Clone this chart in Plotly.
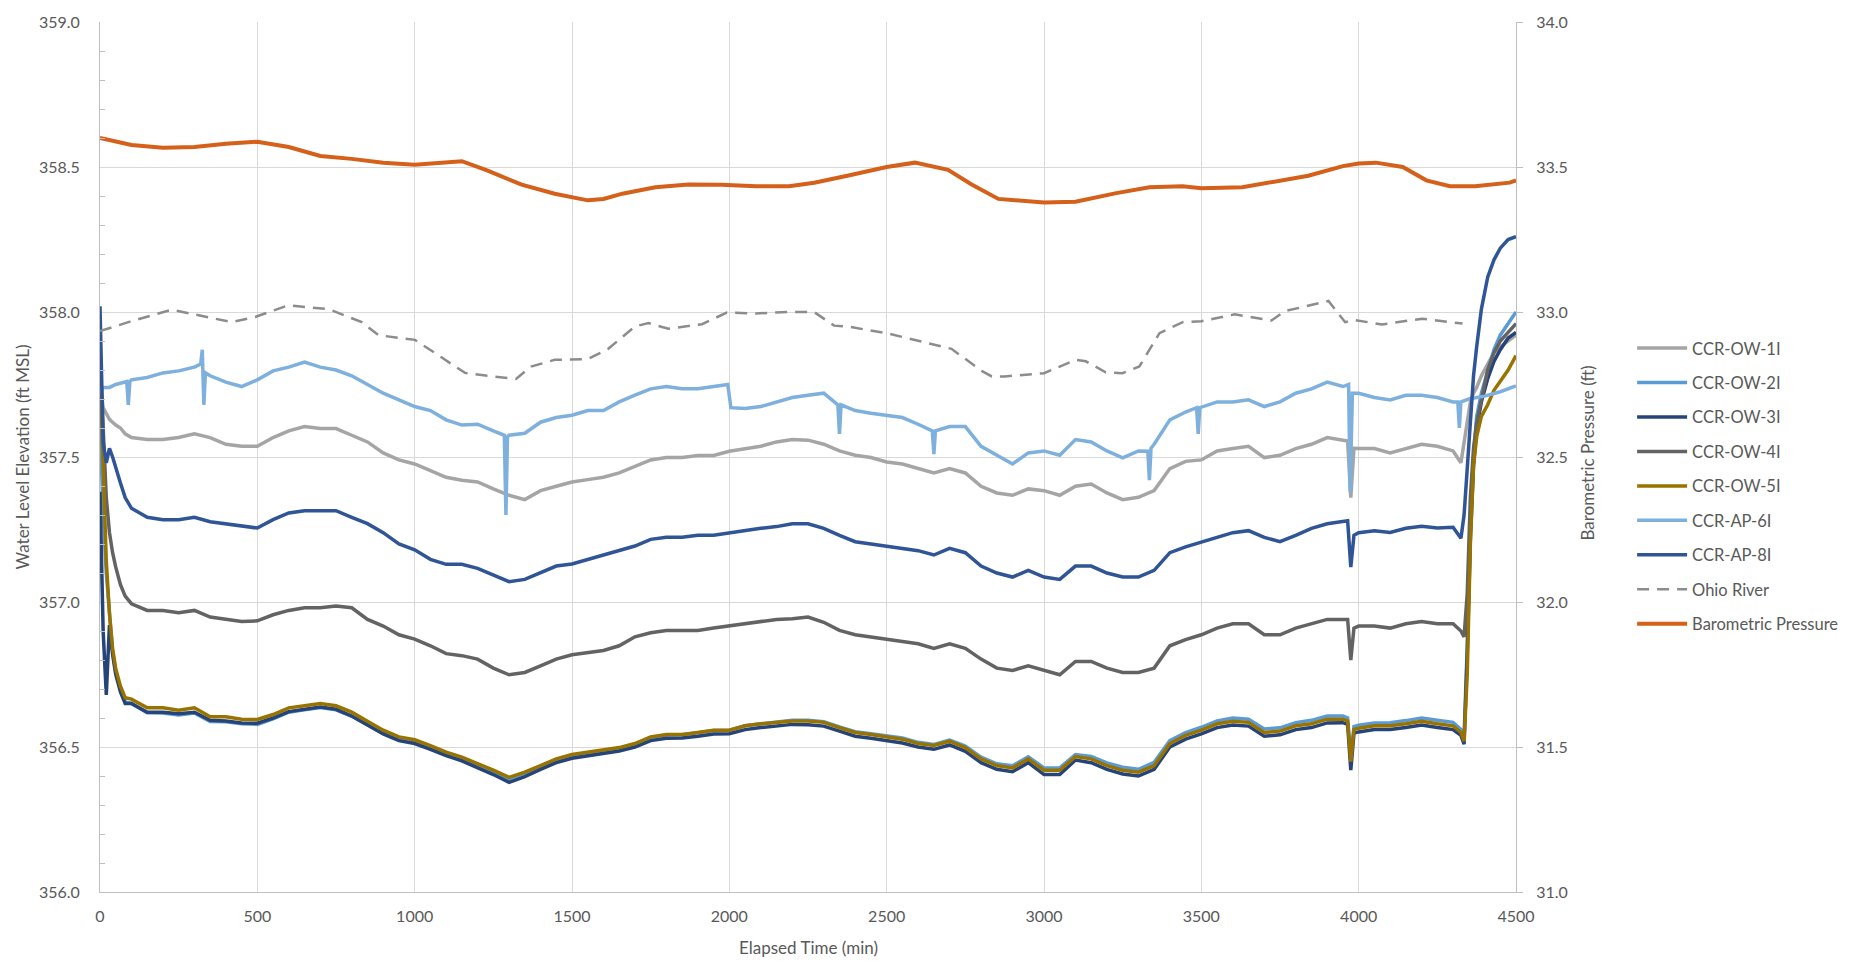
import plotly.graph_objects as go

# Elapsed time grid (min) shared by the monitoring wells
elapsed_min = [
    0, 5, 10, 20, 30, 40, 50, 65, 80,
    100, 150, 200, 250, 300, 350, 400, 450, 500, 550,
    600, 650, 700, 750, 800, 850, 900, 950, 1000, 1050,
    1100, 1150, 1200, 1250, 1300, 1350, 1400, 1450, 1500, 1550,
    1600, 1650, 1700, 1750, 1800, 1850, 1900, 1950, 2000, 2050,
    2100, 2150, 2200, 2250, 2300, 2350, 2400, 2450, 2500, 2550,
    2600, 2650, 2700, 2750, 2800, 2850, 2900, 2950, 3000, 3050,
    3100, 3150, 3200, 3250, 3300, 3350, 3400, 3450, 3500, 3550,
    3600, 3650, 3700, 3750, 3800, 3850, 3900, 3950,
    3965, 3975, 3985,
    4000, 4050, 4100, 4150, 4200, 4250, 4300,
    4325, 4335, 4345, 4355, 4365, 4375, 4390, 4410, 4430, 4450, 4475, 4500,
]

ow_1i = [
    357.76, 357.70, 357.67, 357.65, 357.63, 357.62, 357.61, 357.60, 357.58,
    357.567, 357.56, 357.56, 357.567, 357.58, 357.567, 357.544, 357.537, 357.537, 357.567,
    357.59, 357.605, 357.598, 357.598, 357.575, 357.552, 357.514, 357.49, 357.476, 357.453,
    357.43, 357.42, 357.414, 357.39, 357.368, 357.353, 357.384, 357.399, 357.414, 357.422,
    357.43, 357.445, 357.468, 357.49, 357.498, 357.498, 357.505, 357.505, 357.52, 357.529,
    357.537, 357.552, 357.56, 357.558, 357.544, 357.521, 357.506, 357.498, 357.483, 357.476,
    357.46, 357.445, 357.46, 357.445, 357.399, 357.376, 357.368, 357.39, 357.384, 357.368,
    357.399, 357.407, 357.376, 357.353, 357.361, 357.384, 357.46, 357.485, 357.49, 357.521,
    357.529, 357.537, 357.498, 357.506, 357.529, 357.544, 357.567, 357.56,
    357.555, 357.36, 357.53,
    357.529, 357.529, 357.514, 357.529, 357.544, 357.537, 357.521,
    357.48, 357.55, 357.63, 357.69, 357.72, 357.74, 357.78, 357.82, 357.86, 357.88, 357.90, 357.92,
]

ow_2i = [
    357.62, 357.45, 357.30, 357.10, 356.95, 356.83, 356.76, 356.70, 356.655,
    356.65, 356.618, 356.617, 356.61, 356.617, 356.588, 356.587, 356.58, 356.578, 356.597,
    356.62, 356.628, 356.636, 356.628, 356.606, 356.577, 356.547, 356.525, 356.515, 356.497,
    356.476, 356.46, 356.44, 356.416, 356.39, 356.41, 356.433, 356.456, 356.47, 356.479,
    356.487, 356.496, 356.51, 356.533, 356.541, 356.542, 356.549, 356.557, 356.558, 356.573,
    356.58, 356.586, 356.592, 356.592, 356.587, 356.569, 356.553, 356.546, 356.538, 356.531,
    356.516, 356.509, 356.524, 356.503, 356.465, 356.442, 356.435, 356.466, 356.428, 356.428,
    356.474, 356.467, 356.445, 356.43, 356.423, 356.447, 356.522, 356.55, 356.568, 356.59,
    356.6, 356.596, 356.562, 356.566, 356.584, 356.592, 356.607, 356.607,
    356.6, 356.46, 356.57,
    356.575, 356.583, 356.584, 356.591, 356.6, 356.592, 356.585,
    356.56, 356.54, 356.85, 357.25, 357.50, 357.64, 357.72, 357.80, 357.87, 357.92, 357.96, 358.00,
]

ow_3i = [
    357.38, 357.05, 356.90, 356.68, 356.92, 356.82, 356.75, 356.69, 356.65,
    356.65, 356.62, 356.62, 356.615, 356.62, 356.592, 356.59, 356.583, 356.582, 356.60,
    356.622, 356.63, 356.638, 356.63, 356.607, 356.576, 356.545, 356.522, 356.512, 356.492,
    356.47, 356.452, 356.43, 356.405, 356.378, 356.398, 356.423, 356.446, 356.461, 356.47,
    356.478, 356.486, 356.5, 356.522, 356.53, 356.531, 356.537, 356.545, 356.546, 356.56,
    356.567, 356.572, 356.578, 356.577, 356.572, 356.555, 356.537, 356.53, 356.522, 356.514,
    356.5, 356.492, 356.507, 356.485, 356.446, 356.423, 356.415, 356.446, 356.405, 356.405,
    356.455, 356.446, 356.423, 356.407, 356.4, 356.423, 356.5, 356.527, 356.545, 356.567,
    356.576, 356.572, 356.537, 356.542, 356.56, 356.567, 356.583, 356.584,
    356.578, 356.42, 356.548,
    356.552, 356.56, 356.56, 356.567, 356.576, 356.567, 356.56,
    356.54, 356.51, 356.82, 357.22, 357.47, 357.60, 357.69, 357.77, 357.83, 357.87, 357.91, 357.93,
]

ow_4i = [
    357.84, 357.72, 357.60, 357.36, 357.24, 357.17, 357.12, 357.06, 357.02,
    356.994, 356.971, 356.971, 356.963, 356.971, 356.948, 356.94, 356.933, 356.935, 356.956,
    356.971, 356.98, 356.98, 356.986, 356.98, 356.94, 356.917, 356.887, 356.872, 356.849,
    356.822, 356.815, 356.803, 356.772, 356.749, 356.757, 356.78, 356.803, 356.818, 356.826,
    356.833, 356.849, 356.88, 356.894, 356.902, 356.902, 356.902, 356.91, 356.917, 356.925,
    356.933, 356.94, 356.942, 356.948, 356.93, 356.902, 356.887, 356.88, 356.872, 356.864,
    356.856, 356.84, 356.856, 356.84, 356.803, 356.772, 356.764, 356.78, 356.764, 356.749,
    356.795, 356.795, 356.772, 356.757, 356.757, 356.772, 356.849, 356.87, 356.887, 356.91,
    356.925, 356.925, 356.887, 356.887, 356.91, 356.925, 356.94, 356.94,
    356.94, 356.80, 356.91,
    356.917, 356.917, 356.91, 356.925, 356.933, 356.925, 356.925,
    356.90, 356.88, 357.03, 357.36, 357.53, 357.62, 357.70, 357.80, 357.86, 357.90, 357.93, 357.96,
]

ow_5i = [
    357.80, 357.62, 357.48, 357.14, 356.96, 356.84, 356.77, 356.71, 356.67,
    356.665, 356.635, 356.635, 356.627, 356.635, 356.604, 356.604, 356.596, 356.595, 356.612,
    356.635, 356.642, 356.65, 356.642, 356.62, 356.589, 356.558, 356.535, 356.525, 356.505,
    356.482, 356.465, 356.444, 356.42, 356.395, 356.413, 356.436, 356.459, 356.474, 356.482,
    356.49, 356.498, 356.512, 356.535, 356.543, 356.543, 356.55, 356.558, 356.558, 356.573,
    356.58, 356.585, 356.59, 356.59, 356.585, 356.567, 356.55, 356.543, 356.535, 356.527,
    356.512, 356.505, 356.52, 356.498, 356.459, 356.436, 356.428, 356.459, 356.42, 356.42,
    356.467, 356.459, 356.436, 356.42, 356.413, 356.436, 356.512, 356.54, 356.558, 356.58,
    356.589, 356.585, 356.55, 356.555, 356.573, 356.58, 356.596, 356.596,
    356.59, 356.45, 356.56,
    356.565, 356.573, 356.573, 356.58, 356.589, 356.58, 356.573,
    356.55, 356.52, 356.75, 357.20, 357.47, 357.57, 357.64, 357.68, 357.73, 357.76, 357.80, 357.85,
]

ap_8i = [
    358.02, 357.80, 357.55, 357.48, 357.53, 357.50, 357.46, 357.41, 357.36,
    357.323, 357.292, 357.284, 357.284, 357.292, 357.277, 357.27, 357.26, 357.255, 357.284,
    357.307, 357.315, 357.315, 357.315, 357.292, 357.27, 357.239, 357.2, 357.18, 357.147,
    357.13, 357.13, 357.116, 357.093, 357.07, 357.078, 357.1, 357.124, 357.131, 357.147,
    357.162, 357.177, 357.193, 357.216, 357.223, 357.223, 357.23, 357.23, 357.239, 357.246,
    357.254, 357.26, 357.27, 357.27, 357.254, 357.23, 357.208, 357.2, 357.193, 357.185,
    357.177, 357.162, 357.185, 357.17, 357.124, 357.1, 357.086, 357.109, 357.086, 357.078,
    357.124, 357.124, 357.1, 357.086, 357.086, 357.109, 357.17, 357.19, 357.208, 357.223,
    357.239, 357.246, 357.223, 357.208, 357.23, 357.254, 357.27, 357.277,
    357.28, 357.12, 357.23,
    357.239, 357.246, 357.24, 357.254, 357.261, 357.255, 357.258,
    357.22, 357.30, 357.45, 357.62, 357.78, 357.88, 358.01, 358.12, 358.18, 358.22, 358.25, 358.26,
]

# CCR-AP-6I is logged with its own readings, including the short drawdown spikes
ap_6i_min = [
    0, 10, 30, 50, 85, 90, 95, 100, 150, 200, 250, 300, 320, 325, 330, 335, 350,
    400, 450, 500, 550, 600, 650, 700, 750, 800, 850, 900, 950, 1000, 1050, 1100,
    1150, 1200, 1250, 1285, 1290, 1295, 1300, 1350, 1400, 1450, 1500, 1550, 1600,
    1650, 1700, 1750, 1800, 1850, 1900, 1950, 1995, 2005, 2050, 2100, 2150, 2200,
    2250, 2300, 2345, 2350, 2355, 2400, 2450, 2500, 2550, 2600, 2645, 2650, 2655,
    2700, 2750, 2800, 2850, 2900, 2950, 3000, 3050, 3100, 3150, 3200, 3250, 3300,
    3330, 3335, 3340, 3350, 3400, 3450, 3485, 3490, 3495, 3550, 3600, 3650, 3700,
    3750, 3800, 3850, 3900, 3950, 3968, 3973, 3980, 4000, 4050, 4100, 4150, 4200,
    4250, 4300, 4315, 4320, 4325, 4350, 4400, 4450, 4500,
]
ap_6i = [
    357.72, 357.74, 357.74, 357.75, 357.76, 357.68, 357.76, 357.766, 357.774, 357.79,
    357.797, 357.81, 357.82, 357.87, 357.68, 357.79, 357.78,
    357.758, 357.743, 357.766, 357.797, 357.81, 357.827, 357.81, 357.80, 357.78,
    357.75, 357.72, 357.697, 357.674, 357.66, 357.628,
    357.61, 357.613, 357.59, 357.575, 357.30, 357.57, 357.575, 357.582, 357.62,
    357.636, 357.644, 357.66, 357.66,
    357.69, 357.713, 357.735, 357.743, 357.735, 357.735, 357.743, 357.75, 357.67,
    357.667, 357.674, 357.69, 357.705,
    357.713, 357.72, 357.68, 357.58, 357.68, 357.66, 357.651, 357.644, 357.636,
    357.613, 357.59, 357.51, 357.59,
    357.605, 357.605, 357.537, 357.506, 357.476, 357.514, 357.521, 357.506, 357.56,
    357.552, 357.521, 357.497, 357.521,
    357.52, 357.42, 357.53, 357.544, 357.628, 357.655, 357.67, 357.58, 357.67,
    357.69, 357.69, 357.697, 357.674,
    357.69, 357.72, 357.735, 357.758, 357.743, 357.75, 357.38, 357.72, 357.72,
    357.705, 357.697, 357.713, 357.713,
    357.705, 357.69, 357.69, 357.60, 357.69, 357.70, 357.71, 357.725, 357.745,
]

# Ohio River stage (ft MSL), recorded at coarser intervals
river_min = [
    0, 90, 228, 334, 418, 493, 598, 726, 832, 885, 1001, 1086, 1160, 1232, 1322,
    1370, 1445, 1551, 1615, 1700, 1743, 1806, 1913, 1992, 2083, 2189, 2269, 2333,
    2375, 2500, 2588, 2674, 2706, 2802, 2834, 2876, 3000, 3100, 3133, 3196, 3249,
    3303, 3367, 3441, 3500, 3606, 3723, 3766, 3904, 3957, 3989, 4074, 4202, 4330,
]
ohio_river = [
    357.934, 357.965, 358.008, 357.983, 357.965, 357.983, 358.023, 358.01, 357.965,
    357.92, 357.904, 357.843, 357.79, 357.78, 357.769,
    357.812, 357.835, 357.838, 357.873, 357.95, 357.962, 357.942, 357.958, 357.998,
    357.995, 358.0, 358.0, 357.953,
    357.95, 357.927, 357.904, 357.88, 357.873, 357.797, 357.778, 357.778, 357.789,
    357.835, 357.83, 357.792, 357.789,
    357.812, 357.927, 357.965, 357.968, 357.992, 357.971, 358.003, 358.038, 357.965,
    357.972, 357.957, 357.977, 357.96,
]

# Barometric pressure (ft of water), secondary axis
baro_min = [
    0, 100, 200, 300, 400, 500, 600, 700, 800, 900, 1000, 1100, 1150, 1230, 1340,
    1445, 1550, 1600, 1660, 1765, 1870, 1975, 2085, 2190, 2270, 2375, 2500, 2590,
    2695, 2770, 2855, 3000, 3100, 3230, 3335, 3440, 3500, 3630, 3735, 3840, 3950,
    4000, 4055, 4140, 4215, 4290, 4370, 4480, 4500,
]
baro_ft = [
    33.600, 33.576, 33.566, 33.569, 33.580, 33.587, 33.569, 33.538, 33.528, 33.515,
    33.508, 33.515, 33.520, 33.488, 33.439,
    33.408, 33.385, 33.390, 33.408, 33.430, 33.440, 33.439, 33.434, 33.434, 33.446,
    33.470, 33.500, 33.515,
    33.490, 33.440, 33.390, 33.378, 33.380, 33.410, 33.430, 33.434, 33.427, 33.430,
    33.450, 33.470, 33.503,
    33.512, 33.515, 33.500, 33.454, 33.434, 33.434, 33.446, 33.454,
]

x_ticks = [0, 500, 1000, 1500, 2000, 2500, 3000, 3500, 4000, 4500]

TEXT = "#595959"
GRID = "#D9D9D9"
AXIS = "#BFBFBF"
FONT = "Lato"

wells = [
    ("CCR-OW-1I", elapsed_min, ow_1i, "#A5A5A5"),
    ("CCR-OW-2I", elapsed_min, ow_2i, "#5B9BD5"),
    ("CCR-OW-3I", elapsed_min, ow_3i, "#264478"),
    ("CCR-OW-4I", elapsed_min, ow_4i, "#636363"),
    ("CCR-OW-5I", elapsed_min, ow_5i, "#997300"),
    ("CCR-AP-6I", ap_6i_min, ap_6i, "#7EB0DE"),
    ("CCR-AP-8I", elapsed_min, ap_8i, "#2F5597"),
]

fig = go.Figure()
for name, xs, ys, color in wells:
    fig.add_trace(go.Scatter(
        x=xs, y=ys, name=name, mode="lines", legendgroup=name,
        line=dict(color=color, width=3.5),
    ))

fig.add_trace(go.Scatter(
    x=river_min, y=ohio_river, name="Ohio River", mode="lines",
    legendgroup="Ohio River",
    line=dict(color="#8C8C8C", width=2.5, dash="12px,8px"),
))
fig.add_trace(go.Scatter(
    x=baro_min, y=baro_ft, name="Barometric Pressure", mode="lines",
    legendgroup="Barometric Pressure", yaxis="y2",
    line=dict(color="#D4601A", width=4),
))

fig.update_layout(
    width=1870, height=961,
    margin=dict(l=100, r=354, t=16, b=69),
    paper_bgcolor="white", plot_bgcolor="white",
    font=dict(family=FONT, size=16, color=TEXT),
    showlegend=True,
    legend=dict(
        x=1.082, xanchor="left", y=0.645, yanchor="top",
        font=dict(family=FONT, size=16.5, color=TEXT),
        tracegroupgap=10, itemwidth=50, bgcolor="rgba(0,0,0,0)",
        traceorder="grouped",
    ),
    xaxis=dict(
        range=[0, 4500], tickvals=x_ticks, showgrid=True, gridcolor=GRID, gridwidth=1,
        showline=True, linecolor=AXIS, linewidth=1, ticks="", zeroline=False,
        ticklabelstandoff=10, tickfont=dict(size=16, color=TEXT),
    ),
    yaxis=dict(
        range=[356, 359], dtick=0.5, tickformat=".1f", showgrid=True, gridcolor=GRID,
        showline=True, linecolor=AXIS, linewidth=1, ticks="", zeroline=False,
        ticklabelstandoff=16, tickfont=dict(size=16, color=TEXT),
        minor=dict(dtick=0.1, ticks="inside", ticklen=5, tickcolor=AXIS, showgrid=False),
    ),
    yaxis2=dict(
        range=[31, 34], dtick=0.5, tickformat=".1f", overlaying="y", side="right",
        showgrid=False, showline=True, linecolor=AXIS, linewidth=1, zeroline=False,
        ticks="outside", ticklen=6, tickcolor=AXIS,
        ticklabelstandoff=10, tickfont=dict(size=16, color=TEXT),
    ),
    annotations=[
        dict(text="Water Level Elevation (ft MSL)", xref="paper", yref="paper",
             x=-0.0548, y=0.5, xanchor="center", yanchor="middle", textangle=-90,
             showarrow=False, font=dict(family=FONT, size=17, color=TEXT)),
        dict(text="Barometric Pressure (ft)", xref="paper", yref="paper",
             x=1.0508, y=0.505, xanchor="center", yanchor="middle", textangle=-90,
             showarrow=False, font=dict(family=FONT, size=17, color=TEXT)),
        dict(text="Elapsed Time (min)", xref="paper", yref="paper",
             x=0.5, y=-0.0639, xanchor="center", yanchor="middle",
             showarrow=False, font=dict(family=FONT, size=17, color=TEXT)),
    ],
)

fig.write_html("out.html")
